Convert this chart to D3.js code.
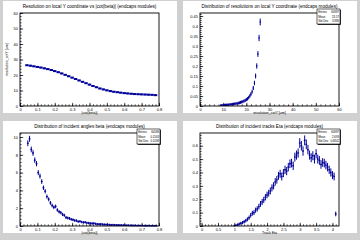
<!DOCTYPE html>
<html>
<head>
<meta charset="utf-8">
<script src="https://cdn.jsdelivr.net/npm/d3@7"></script>
<style>
  body { margin: 0; background: #d0d0d0; }
  svg { display: block; }
  text { font-family: "Liberation Sans", Arial, sans-serif; fill: #000; }
</style>
</head>
<body>
<svg id="canvas" width="360" height="240"></svg>
<script>
// --- panel 1: resolution vs |cot(beta)|
const cotBins = [0.04,0.06,0.08,0.10,0.12,0.14,0.16,0.18,0.20,0.22,0.24,0.26,0.28,0.30,0.32,0.34,0.36,0.38,0.40,
  0.42,0.44,0.46,0.48,0.50,0.52,0.54,0.56,0.58,0.60,0.62,0.64,0.66,0.68,0.70,0.72,0.74,0.76,0.78];
const resVsCot = [26.3,26.0,25.6,25.2,24.8,24.3,23.8,23.2,22.5,21.8,21.0,20.1,19.2,18.3,17.4,16.5,15.6,14.7,13.8,
  12.9,12.1,11.3,10.7,10.1,9.6,9.2,8.9,8.6,8.3,8.1,7.9,7.7,7.6,7.5,7.4,7.3,7.2,7.0];

// --- panel 2: distribution of resolutions
const resBins = [9,9.5,10,10.5,11,11.5,12,12.5,13,13.5,14,14.5,15,15.5,16,16.5,17,17.5,18,18.5,19,19.5,
  20,20.5,21,21.5,22,22.5,23,23.5,24,24.5,25,25.5,26];
const resDist = [0.003,0.004,0.004,0.005,0.005,0.006,0.006,0.007,0.008,0.008,0.009,0.010,0.011,0.012,0.013,0.014,
  0.016,0.018,0.020,0.022,0.025,0.028,0.032,0.036,0.042,0.050,0.060,0.072,0.090,0.115,0.150,0.200,0.260,0.340,0.420];

// --- panel 3: incident angle beta
const betaBins = [0.045,0.055,0.065,0.075,0.085,0.095,0.105,0.115,0.125,0.135,0.145,0.155,0.165,0.175,0.185,0.195,
  0.205,0.215,0.225,0.235,0.245,0.255,0.265,0.275,0.285,0.295,0.305,0.315,0.325,0.335,0.345,0.355,0.365,0.375,
  0.385,0.395,0.405,0.415,0.425,0.435,0.445,0.455,0.465,0.475,0.485,0.495,0.505,0.515,0.525,0.535,0.545,0.555,
  0.565,0.575,0.585,0.595,0.605,0.615,0.625,0.635,0.645,0.655,0.665,0.675,0.685,0.695,0.705,0.715,0.725,0.735,
  0.745,0.755,0.765,0.775,0.785];
const betaDist = [9.3,9.8,8.6,8.2,7.4,7.0,6.0,5.6,5.0,4.3,3.9,3.3,3.0,2.6,2.3,2.1,2.2,1.8,1.6,1.5,1.3,1.2,0.95,0.9,
  0.85,0.75,0.7,0.62,0.6,0.5,0.52,0.45,0.4,0.42,0.35,0.33,0.3,0.28,0.3,0.25,0.22,0.2,0.22,0.18,0.17,0.16,0.15,
  0.14,0.12,0.13,0.11,0.1,0.1,0.09,0.08,0.08,0.07,0.07,0.06,0.06,0.05,0.05,0.05,0.04,0.04,0.04,0.04,0.03,0.03,
  0.03,0.03,0.02,0.02,0.02,0.02];

// --- panel 4: track eta
const etaBins = [1.00,1.05,1.10,1.15,1.20,1.25,1.30,1.35,1.40,1.45,1.50,1.55,1.60,1.65,1.70,1.75,1.80,1.85,1.90,1.95,
  2.00,2.05,2.10,2.15,2.20,2.25,2.30,2.35,2.40,2.45,2.50,2.55,2.60,2.65,2.70,2.75,2.80,2.85,2.90,2.95,
  3.00,3.05,3.10,3.15,3.20,3.25,3.30,3.35,3.40,3.45,3.50,3.55,3.60,3.65,3.70,3.75,3.80,3.85,3.90,3.95,4.00,4.05,4.10];
const etaDist = [0.002,0.005,0.010,0.015,0.020,0.025,0.032,0.040,0.050,0.062,0.080,0.095,0.100,0.118,0.128,0.145,
  0.165,0.180,0.195,0.215,0.232,0.245,0.262,0.285,0.300,0.330,0.345,0.375,0.390,0.370,0.395,0.420,0.410,0.440,
  0.465,0.470,0.450,0.515,0.530,0.545,0.620,0.600,0.560,0.640,0.610,0.570,0.530,0.510,0.525,0.500,0.540,0.500,
  0.490,0.460,0.475,0.470,0.455,0.440,0.420,0.400,0.380,0.370,0.090];

const svg = d3.select("#canvas");
const blue = "#000099";

function drawPanel(row, col, cfg) {
  const g = svg.append("g").attr("transform", `translate(${col * 180},${row * 120})`);
  g.append("rect").attr("x", 3).attr("y", 1).attr("width", 174).attr("height", 112).attr("fill", "#fff");

  const x = d3.scaleLinear().domain(cfg.xDomain).range([20, 159]);
  const y = d3.scaleLinear().domain(cfg.yDomain).range([106, 13]);

  // minor + major ticks, pointing inside the frame
  const tickStyle = sel => { sel.select(".domain").remove(); sel.selectAll("line").attr("stroke", "#000").attr("stroke-width", 0.7); };
  g.append("g").attr("transform", "translate(0,106)")
    .call(d3.axisTop(x).tickValues(cfg.xMinor).tickSize(1.6).tickFormat("")).call(tickStyle);
  g.append("g").attr("transform", "translate(0,106)")
    .call(d3.axisTop(x).tickValues(cfg.xMajor).tickSize(3.2).tickFormat("")).call(tickStyle);
  g.append("g").attr("transform", "translate(20,0)")
    .call(d3.axisRight(y).tickValues(cfg.yMinor).tickSize(1.6).tickFormat("")).call(tickStyle);
  g.append("g").attr("transform", "translate(20,0)")
    .call(d3.axisRight(y).tickValues(cfg.yMajor).tickSize(3.2).tickFormat("")).call(tickStyle);

  // tick labels
  const xl = g.append("g").attr("transform", "translate(0,106)")
    .call(d3.axisBottom(x).tickValues(cfg.xMajor).tickSize(0).tickPadding(2).tickFormat(d => cfg.xLabels[cfg.xMajor.indexOf(d)]));
  xl.select(".domain").remove();
  xl.selectAll("text").attr("font-size", 4).attr("font-family", null);
  const yl = g.append("g").attr("transform", "translate(20,0)")
    .call(d3.axisLeft(y).tickValues(cfg.yMajor).tickSize(0).tickPadding(2).tickFormat(d => cfg.yLabels[cfg.yMajor.indexOf(d)]));
  yl.select(".domain").remove();
  yl.selectAll("text").attr("font-size", 4).attr("font-family", null);

  // data: bin-width segment plus error bar
  const half = cfg.binWidth / 2;
  const marks = g.append("g").attr("stroke", blue);
  cfg.xs.forEach((xv, i) => {
    const v = cfg.ys[i];
    if (xv - half < cfg.xDomain[0] || v > cfg.yDomain[1]) return;
    const py = y(v);
    const e = cfg.errPx(v);
    marks.append("line").attr("x1", x(xv - half)).attr("x2", x(xv + half))
      .attr("y1", py).attr("y2", py).attr("stroke-width", cfg.lineW);
    marks.append("line").attr("x1", x(xv)).attr("x2", x(xv))
      .attr("y1", Math.min(106, py + e)).attr("y2", py - e).attr("stroke-width", 1);
  });

  // frame
  g.append("rect").attr("x", 20).attr("y", 13).attr("width", 139).attr("height", 93)
    .attr("fill", "none").attr("stroke", "#000").attr("stroke-width", 0.9);

  // titles
  g.append("text").attr("x", 89.5).attr("y", 7.5).attr("text-anchor", "middle")
    .attr("font-size", 4.6).text(cfg.title);
  g.append("text").attr("x", 89.5).attr("y", 114).attr("text-anchor", "middle")
    .attr("font-size", 3.6).text(cfg.xTitle);
  if (cfg.yTitle) {
    g.append("text").attr("transform", "translate(7.5,59.5) rotate(-90)").attr("text-anchor", "middle")
      .attr("font-size", 3.6).text(cfg.yTitle);
  }

  // stats box
  if (cfg.stats) {
    const sb = g.append("g").attr("transform", "translate(137,9)");
    sb.append("rect").attr("x", 0.8).attr("y", 0.8).attr("width", 23).attr("height", 15).attr("fill", "#000");
    sb.append("rect").attr("width", 23).attr("height", 15).attr("fill", "#fff").attr("stroke", "#000").attr("stroke-width", 0.6);
    cfg.stats.forEach((s, i) => {
      sb.append("text").attr("x", 1.2).attr("y", 4.2 + i * 4.6).attr("font-size", 2.8).text(s[0]);
      sb.append("text").attr("x", 22).attr("y", 4.2 + i * 4.6).attr("font-size", 2.8)
        .attr("text-anchor", "end").text(s[1]);
    });
  }
}

drawPanel(0, 0, {
  title: "Resolution on local Y coordinate vs |cot(beta)| (endcaps modules)",
  xTitle: "|cot(beta)|", yTitle: "resolution_cotY [um]",
  xDomain: [0, 0.8], yDomain: [0, 60],
  xMajor: [0, 0.1, 0.2, 0.3, 0.4, 0.5, 0.6, 0.7, 0.8],
  xLabels: ["0", "0.1", "0.2", "0.3", "0.4", "0.5", "0.6", "0.7", "0.8"],
  xMinor: d3.range(0, 0.801, 0.02),
  yMajor: [0, 10, 20, 30, 40, 50, 60],
  yLabels: ["0", "10", "20", "30", "40", "50", "60"],
  yMinor: d3.range(0, 60.1, 2),
  xs: cotBins, ys: resVsCot, binWidth: 0.02, lineW: 2, errPx: () => 0.8
});

drawPanel(0, 1, {
  title: "Distribution of resolutions on local Y coordinate (endcaps modules)",
  xTitle: "resolution_cotY [um]",
  xDomain: [0, 60], yDomain: [0, 0.465],
  xMajor: [0, 10, 20, 30, 40, 50, 60],
  xLabels: ["0", "10", "20", "30", "40", "50", "60"],
  xMinor: d3.range(0, 60.1, 2),
  yMajor: [0, 0.05, 0.1, 0.15, 0.2, 0.25, 0.3, 0.35, 0.4, 0.45],
  yLabels: ["0", "0.05", "0.1", "0.15", "0.2", "0.25", "0.3", "0.35", "0.4", "0.45"],
  yMinor: d3.range(0, 0.461, 0.01),
  xs: resBins, ys: resDist, binWidth: 0.5, lineW: 1.4, errPx: v => 1 + 2.5 * Math.sqrt(v / 0.45),
  stats: [["Entries", "60987"], ["Mean", "23.57"], ["Std Dev", "3.886"]]
});

drawPanel(1, 0, {
  title: "Distribution of incident angles beta (endcaps modules)",
  xTitle: "|cot(beta)|",
  xDomain: [0, 0.8], yDomain: [0, 10.45],
  xMajor: [0, 0.1, 0.2, 0.3, 0.4, 0.5, 0.6, 0.7, 0.8],
  xLabels: ["0", "0.1", "0.2", "0.3", "0.4", "0.5", "0.6", "0.7", "0.8"],
  xMinor: d3.range(0, 0.801, 0.02),
  yMajor: [0, 2, 4, 6, 8, 10],
  yLabels: ["0", "2", "4", "6", "8", "10"],
  yMinor: d3.range(0, 10.41, 0.4),
  xs: betaBins, ys: betaDist, binWidth: 0.01, lineW: 1.4, errPx: v => 0.8 + 2.2 * Math.sqrt(v / 10),
  stats: [["Entries", "60586"], ["Mean", "0.1563"], ["Std Dev", "0.1098"]]
});

drawPanel(1, 1, {
  title: "Distribution of incident tracks Eta (endcaps modules)",
  xTitle: "Track Eta",
  xDomain: [-0.05, 4.2], yDomain: [0, 0.695],
  xMajor: [0, 0.5, 1, 1.5, 2, 2.5, 3, 3.5, 4],
  xLabels: ["0", "0.5", "1", "1.5", "2", "2.5", "3", "3.5", "4"],
  xMinor: d3.range(0, 4.2, 0.1),
  yMajor: [0, 0.1, 0.2, 0.3, 0.4, 0.5, 0.6],
  yLabels: ["0", "0.1", "0.2", "0.3", "0.4", "0.5", "0.6"],
  yMinor: d3.range(0, 0.69, 0.02),
  xs: etaBins, ys: etaDist, binWidth: 0.05, lineW: 1.4, errPx: v => 0.8 + 4 * Math.sqrt(v / 0.6),
  stats: [["Entries", "60987"], ["Mean", "2.693"], ["Std Dev", "0.6842"]]
});
</script>
</body>
</html>
